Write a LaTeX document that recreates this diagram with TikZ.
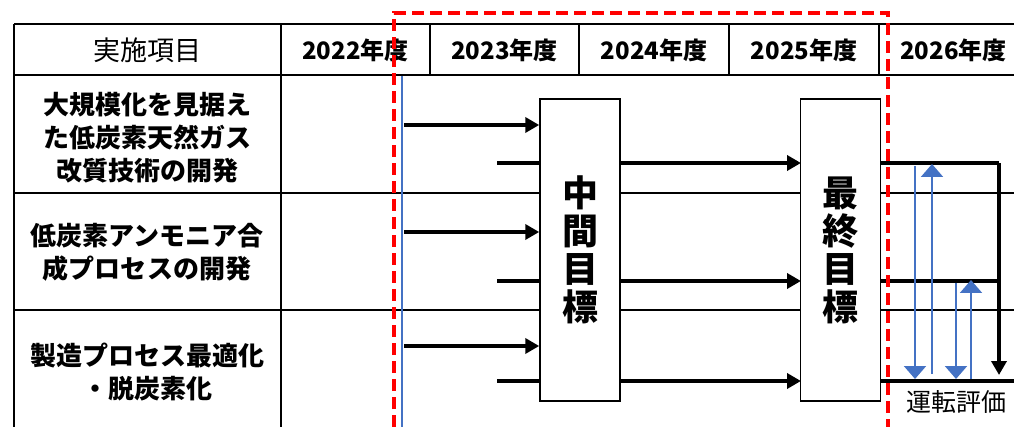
\documentclass[tikz,border=0pt]{standalone}
\usepackage{fontspec}
\setmainfont{Noto Sans CJK JP}
\usetikzlibrary{arrows.meta}
\definecolor{myblue}{RGB}{68,114,196}
\definecolor{myred}{RGB}{255,0,0}
\begin{document}
\begin{tikzpicture}[x=1pt,y=-1pt,
  grid/.style={line width=1.5pt,black},
  arr/.style={line width=4pt,-{Triangle[length=14pt,width=15pt]}},
  thk/.style={line width=4pt},
  barr/.style={line width=2pt,myblue,-{Triangle[length=13pt,width=22pt]}},
  bline/.style={line width=2.5pt,myblue},
  redbox/.style={line width=4pt,myred,dash pattern=on 12pt off 6pt},
  goal/.style={draw,line width=1.5pt,fill=white,minimum width=80pt,minimum height=302pt,inner sep=0pt,align=center,font=\fontsize{36}{38}\selectfont\bfseries},
  year/.style={font=\fontsize{24}{28}\selectfont\bfseries},
  rowlab/.style={align=center,font=\fontsize{26}{33}\selectfont\bfseries},
  hdr/.style={font=\fontsize{27}{30}\selectfont}
]
\useasboundingbox (0,0) rectangle (1014,427);
% table lines
\draw[grid] (14,24) -- (1014,24);
\draw[grid] (14,75) -- (1014,75);
\draw[grid] (14,193) -- (1014,193);
\draw[grid] (14,310) -- (1014,310);
\draw[grid] (14,24) -- (14,427);
\draw[grid] (281,24) -- (281,427);
\draw[grid] (430,24) -- (430,75);
\draw[grid] (579,24) -- (579,75);
\draw[grid] (729,24) -- (729,75);
\draw[grid] (879,24) -- (879,75);
% header texts
\node[hdr] (h0) at (147,50) {実施項目};
\node[year] (y22) at (355.5,50) {2022年度};
\node[year] (y23) at (504.5,50) {2023年度};
\node[year] (y24) at (654,50) {2024年度};
\node[year] (y25) at (804,50) {2025年度};
\node[year] (y26) at (953.5,50) {2026年度};
% row labels
\node[rowlab] (r1) at (147,138) {大規模化を見据え\\た低炭素天然ガス\\改質技術の開発};
\node[rowlab] (r2) at (147,252) {低炭素アンモニア合\\成プロセスの開発};
\node[rowlab] (r3) at (147,372) {製造プロセス最適化\\・脱炭素化};
% blue start line
\coordinate (bs) at (402,76);
\coordinate (be) at (402,427);
\draw[bline] (bs) -- (be);
% boxes (defined for anchors)
\path (580,250) coordinate (midc) (840.5,250) coordinate (finc);
% start coordinates
\coordinate (a1) at (404,125);
\coordinate (a2) at (404,232);
\coordinate (a3) at (404,346);
\coordinate (b1) at (497,163);
\coordinate (b2) at (497,281);
\coordinate (b3) at (497,381);
% long arrows (partly hidden behind box)
\draw[arr] (b1) -- (801,163);
\draw[arr] (b2) -- (801,281);
\draw[arr] (b3) -- (801,381);
% boxes
\node[goal] (mid) at (midc) {中\\間\\目\\標};
\node[goal] (fin) at (finc) {最\\終\\目\\標};
% short arrows
\draw[arr] (a1) -- (mid.west |- a1);
\draw[arr] (a2) -- (mid.west |- a2);
\draw[arr] (a3) -- (mid.west |- a3);
% right side
\coordinate (c1) at (999,163);
\coordinate (c1d) at (999,375);
\coordinate (c2) at (1001,281);
\coordinate (c3) at (1014,381);
\draw[thk] (fin.east |- b1) -- (c1);
\draw[line width=4pt,-{Triangle[length=14pt,width=15pt]}] (c1) -- (c1d);
\draw[thk] (fin.east |- b2) -- (c2);
\draw[thk] (fin.east |- b3) -- (c3);
% blue arrows
\coordinate (d1s) at (915,166);
\coordinate (d1e) at (915,379);
\coordinate (u1s) at (932,374);
\coordinate (u1e) at (932,164);
\coordinate (d2s) at (956,283);
\coordinate (d2e) at (956,379);
\coordinate (u2s) at (971,379);
\coordinate (u2e) at (971,280);
\draw[barr] (d1s) -- (d1e);
\draw[barr] (u1s) -- (u1e);
\draw[barr] (d2s) -- (d2e);
\draw[barr] (u2s) -- (u2e);
\node[font=\fontsize{25}{28}\selectfont] (eval) at (956,402) {運転評価};
% red dashed frame
\coordinate (rd1) at (394,427);
\coordinate (rd2) at (394,13);
\coordinate (rd3) at (888,13);
\coordinate (rd4) at (888,427);
\draw[redbox] (rd1) -- (rd2) -- (rd3) -- (rd4);
\end{tikzpicture}
\end{document}
